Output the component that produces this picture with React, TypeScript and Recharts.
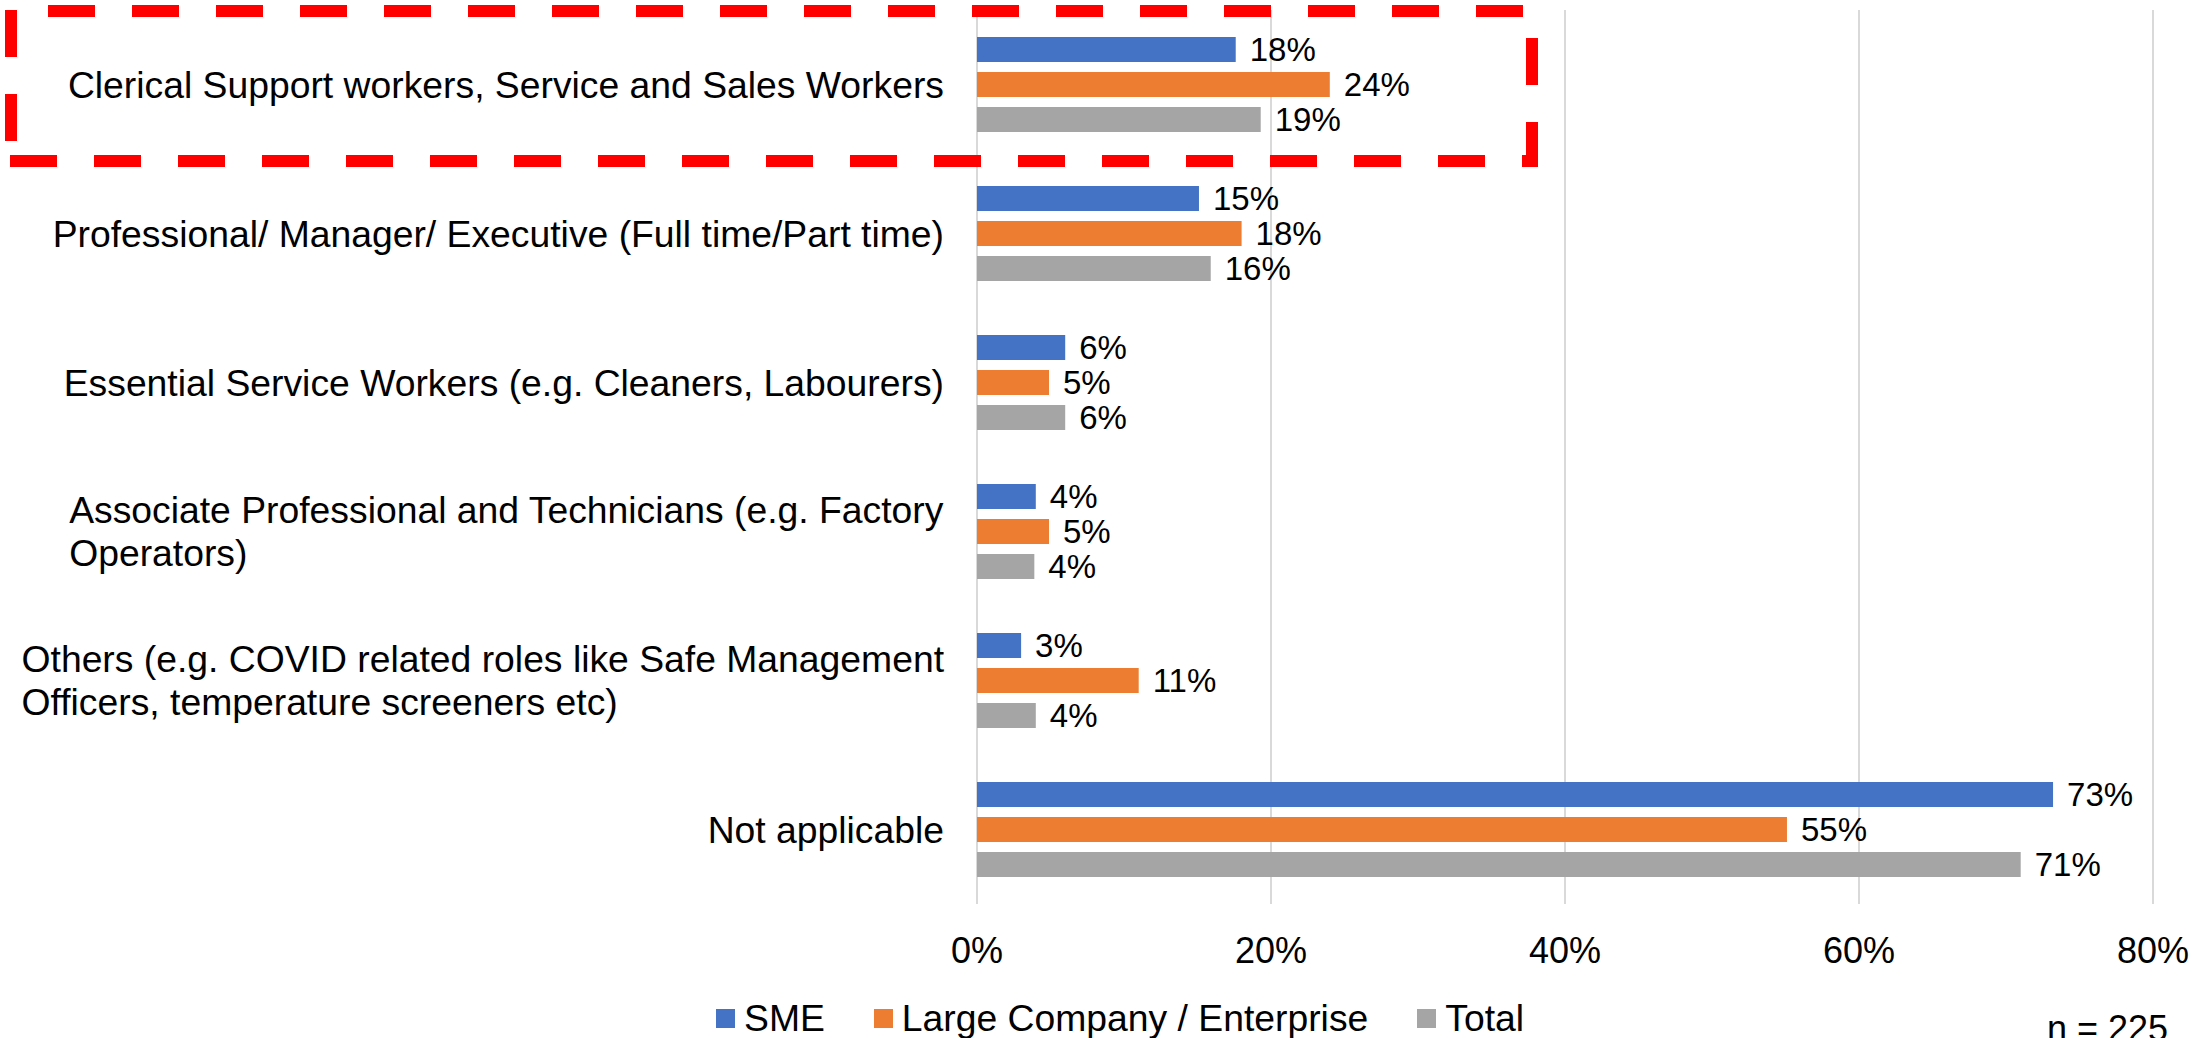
import React from "react";
import { BarChart, Bar, XAxis, YAxis, CartesianGrid, LabelList, Legend } from "recharts";

const categories = [
  "Clerical Support workers, Service and Sales Workers",
  "Professional/ Manager/ Executive (Full time/Part time)",
  "Essential Service Workers (e.g. Cleaners, Labourers)",
  "Associate Professional and Technicians (e.g. Factory\nOperators)",
  "Others (e.g. COVID related roles like Safe Management\nOfficers, temperature screeners etc)",
  "Not applicable",
];

const sme = [17.6, 15.1, 6, 4, 3, 73.2];
const large = [24, 18, 4.9, 4.9, 11, 55.1];
const total = [19.3, 15.9, 6, 3.9, 4, 71];

const xTicks = [0, 20, 40, 60, 80];

const series = [
  { key: "sme", name: "SME", color: "#4472C4" },
  { key: "large", name: "Large Company / Enterprise", color: "#ED7D31" },
  { key: "total", name: "Total", color: "#A5A5A5" },
];

const rows = categories.map((name, i) => ({ name, sme: sme[i], large: large[i], total: total[i] }));

const FONT = "'Liberation Sans', Arial, sans-serif";
const CAT_SIZE = 37.3;

let ctx: CanvasRenderingContext2D | null = null;
function measure(s: string, size: number) {
  if (!ctx) ctx = document.createElement("canvas").getContext("2d");
  if (!ctx) return s.length * size * 0.5;
  ctx.font = `${size}px 'Liberation Sans', Arial, sans-serif`;
  return ctx.measureText(s).width;
}

function CategoryTick(props: any) {
  const { x, y, payload } = props;
  const lines = String(payload.value).split("\n");
  const lh = 43;
  const y0 = y - ((lines.length - 1) * lh) / 2;
  if (lines.length === 1) {
    return (
      <text x={x} y={y} dy="0.355em" textAnchor="end" fontSize={CAT_SIZE} fontFamily={FONT} fill="#000">
        {lines[0]}
      </text>
    );
  }
  // wrapped labels: block right-aligned, lines left-aligned
  const w = Math.max(...lines.map((l) => measure(l, CAT_SIZE)));
  return (
    <text fontSize={CAT_SIZE} fontFamily={FONT} fill="#000" textAnchor="start">
      {lines.map((l, i) => (
        <tspan key={i} x={x - w} y={y0 + i * lh} dy="0.355em">
          {l}
        </tspan>
      ))}
    </text>
  );
}

function LegendBox() {
  return (
    <div style={{ display: "flex", alignItems: "center", height: 40, paddingLeft: 716, fontFamily: FONT, fontSize: CAT_SIZE, color: "#000" }}>
      {series.map((s) => (
        <div key={s.key} style={{ display: "flex", alignItems: "center", marginRight: 49 }}>
          <div style={{ width: 19, height: 19, background: s.color, marginRight: 9 }} />
          <span style={{ lineHeight: "40px", whiteSpace: "nowrap" }}>{s.name}</span>
        </div>
      ))}
    </div>
  );
}

export default function App() {
  return (
    <div style={{ position: "absolute", left: 0, top: 0, width: 2203, height: 1038, overflow: "hidden", background: "#fff" }}>
      <BarChart
        width={2203}
        height={1038}
        data={rows}
        layout="vertical"
        margin={{ top: 10, right: 50, left: 0, bottom: 0 }}
        barSize={25}
        barGap={10}
      >
        <CartesianGrid horizontal={false} stroke="#D9D9D9" strokeWidth={2} />
        <XAxis
          type="number"
          domain={[0, 80]}
          ticks={xTicks}
          tickFormatter={(v) => `${v}%`}
          axisLine={false}
          tickLine={false}
          tickSize={0}
          tickMargin={33}
          height={94}
          tick={{ fontSize: 36, fill: "#000", fontFamily: FONT }}
        />
        <YAxis
          type="category"
          dataKey="name"
          width={977}
          axisLine={false}
          tickLine={false}
          tickSize={0}
          tickMargin={33}
          interval={0}
          tick={<CategoryTick />}
        />
        <Legend verticalAlign="bottom" content={() => <LegendBox />} />
        {series.map((s) => (
          <Bar key={s.key} dataKey={s.key} name={s.name} fill={s.color} isAnimationActive={false}>
            <LabelList
              dataKey={s.key}
              position="right"
              offset={14}
              formatter={(v: any) => `${Math.round(Number(v))}%`}
              style={{ fontSize: 33, fill: "#000", fontFamily: FONT }}
            />
          </Bar>
        ))}
      </BarChart>
      <svg width={2203} height={1038} style={{ position: "absolute", left: 0, top: 0, pointerEvents: "none" }}>
        <g stroke="#FF0000" strokeWidth={12} strokeDasharray="47 37" fill="none">
          <line x1={12} y1={11} x2={1533} y2={11} strokeDashoffset={48} />
          <line x1={10} y1={161} x2={1528} y2={161} />
          <line x1={11} y1={10} x2={11} y2={150} />
          <line x1={1532} y1={38} x2={1532} y2={167} />
        </g>
        <text x={2047} y={1041} fontSize={36} fontFamily={FONT} fill="#000">
          n = 225
        </text>
      </svg>
    </div>
  );
}
